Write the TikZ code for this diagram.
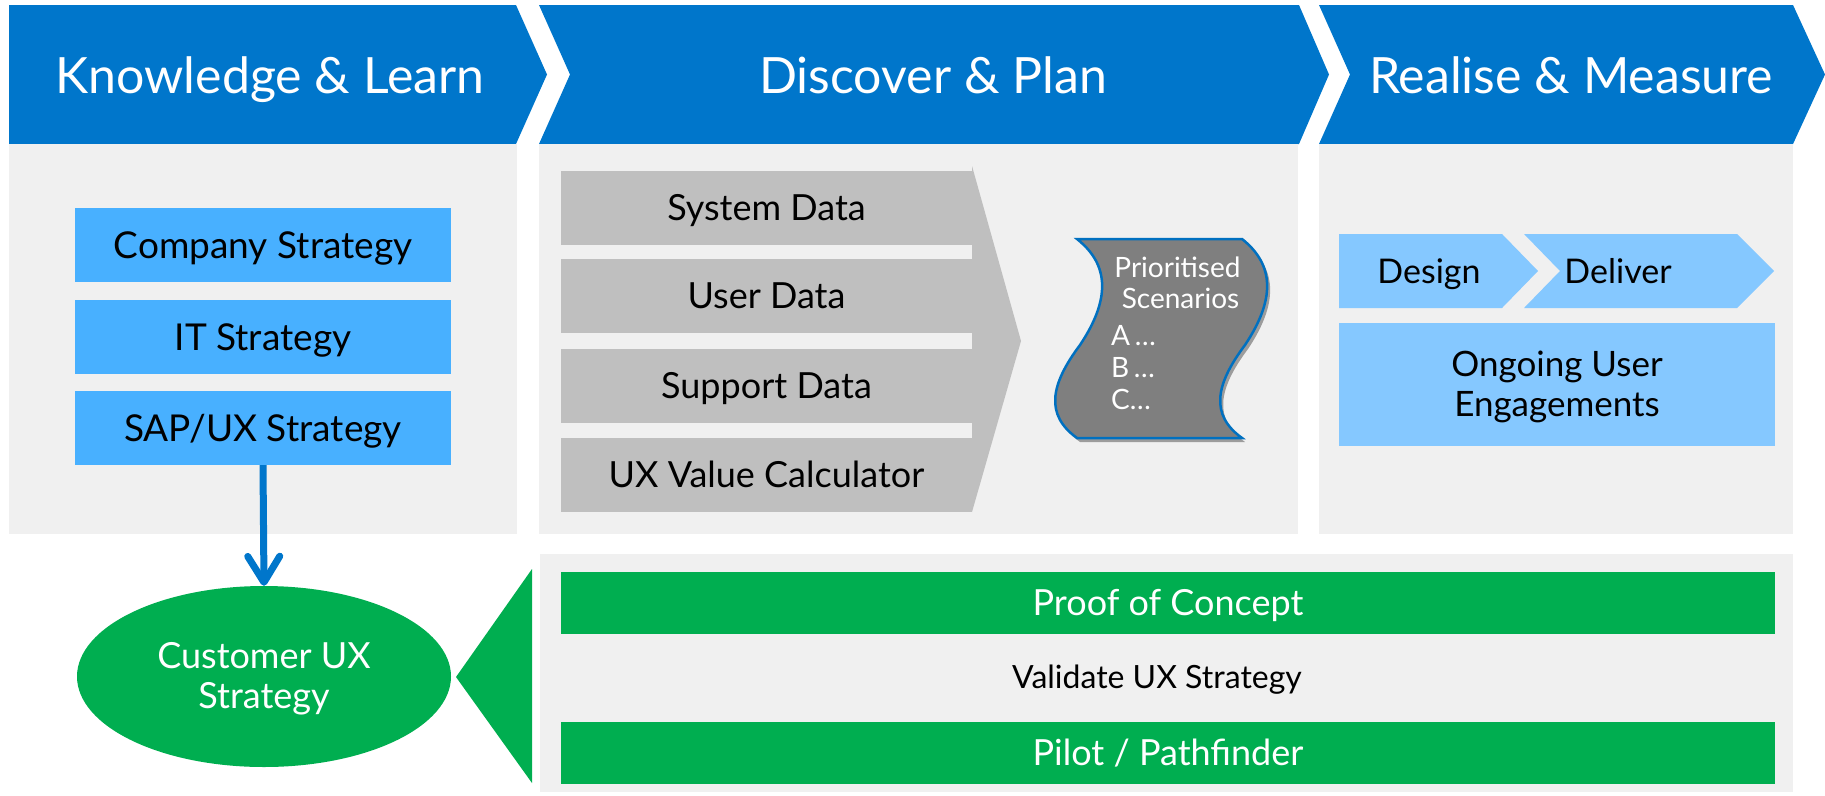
\documentclass[tikz,border=0pt]{standalone}
\usepackage{fontspec}
\setmainfont{Lato}
\usetikzlibrary{arrows.meta,shapes.geometric,shadows}
\definecolor{hdrblue}{RGB}{0,118,203}
\definecolor{panelgrey}{RGB}{240,240,240}
\definecolor{lblue}{RGB}{72,176,255}
\definecolor{pblue}{RGB}{133,200,255}
\definecolor{bargrey}{RGB}{191,191,191}
\definecolor{scrollgrey}{RGB}{127,127,127}
\definecolor{scrollborder}{RGB}{0,112,192}
\definecolor{sapgreen}{RGB}{0,174,80}
\begin{document}
\begin{tikzpicture}[x=1pt,y=-1pt,
  hdr/.style={fill=hdrblue},
  panel/.style={fill=panelgrey},
  capmid/.style={inner sep=0pt,text height=#1,text depth=0pt},
  hdrtext/.style={capmid=36pt,text=white,font=\fontsize{50}{58}\selectfont},
  stratbox/.style={rectangle,capmid=26.5pt,fill=lblue,minimum width=376pt,minimum height=74pt,font=\fontsize{37}{44}\selectfont},
  databar/.style={rectangle,capmid=25.8pt,fill=bargrey,minimum width=411pt,minimum height=74pt,font=\fontsize{36}{42}\selectfont},
  greenbar/.style={rectangle,capmid=25.8pt,fill=sapgreen,text=white,minimum width=1214pt,minimum height=62pt,font=\fontsize{36}{42}\selectfont},
  phase/.style={fill=pblue},
  phasetext/.style={capmid=24.4pt,font=\fontsize{34}{40}\selectfont},
  linetext/.style={inner sep=0pt,anchor=base},
  scrolltext/.style={linetext,text=white,font=\fontsize{28}{32}\selectfont},
]
\useasboundingbox (0,0) rectangle (1825,795);
% headers
\fill[hdr] (9,5) -- (516,5) -- (547,74.5) -- (516,144) -- (9,144) -- cycle;
\fill[hdr] (539,5) -- (1299,5) -- (1329,74.5) -- (1299,144) -- (539,144) -- (570,74.5) -- cycle;
\fill[hdr] (1319,5) -- (1793,5) -- (1825,74.5) -- (1793,144) -- (1319,144) -- (1350,74.5) -- cycle;
\node[hdrtext] (h1) at (270,75) {Knowledge \& Learn};
\node[hdrtext] (h2) at (933,75) {Discover \& Plan};
\node[hdrtext] (h3) at (1571,75) {Realise \& Measure};
% panels
\fill[panel] (9,144) rectangle (517,534);
\fill[panel] (539,144) rectangle (1298,534);
\fill[panel] (1319,144) rectangle (1793,534);
\fill[panel] (540,554) rectangle (1793,792);
% strategy boxes
\node[stratbox] (cs) at (263,245) {Company Strategy};
\node[stratbox] (its) at (263,337) {IT Strategy};
\node[stratbox] (sap) at (263,428) {SAP/UX Strategy};
% customer UX strategy
\node[ellipse,fill=sapgreen,minimum width=374pt,minimum height=181pt,inner sep=0pt] (cust) at (264,676.5) {};
\node[linetext,text=white,font=\fontsize{36}{42}\selectfont] (cust1) at (264,668) {Customer UX};
\node[linetext,text=white,font=\fontsize{36}{42}\selectfont] (cust2) at (264,708) {Strategy};
\draw[hdrblue,line width=7pt,-{Straight Barb[length=26pt,width=32pt,round]}] (sap.south) -- (cust.north);
\fill[sapgreen] (456,677) -- (532,569) -- (532,783) -- cycle;
% data bars
\fill[bargrey] (972,166) -- (1021,341) -- (972,512) -- cycle;
\node[databar] (sd) at (766.5,208) {System Data};
\node[databar] (ud) at (766.5,296) {User Data};
\node[databar] (spd) at (766.5,386) {Support Data};
\node[databar] (uxv) at (766.5,475) {UX Value Calculator};
% scroll
\fill[scrollgrey,draw=scrollborder,line width=2.5pt,drop shadow={shadow xshift=3pt,shadow yshift=-4pt,opacity=0.35,fill=black}]
  (1077,239) -- (1242,239) .. controls (1275,265) and (1275,300) .. (1245,345)
  .. controls (1215,385) and (1210,415) .. (1242,438) -- (1077,438)
  .. controls (1045,415) and (1050,385) .. (1080,345)
  .. controls (1110,300) and (1110,265) .. (1077,239) -- cycle;
\node[scrolltext] (ps1) at (1177.5,277) {Prioritised};
\node[scrolltext] (ps2) at (1180.5,308) {Scenarios};
\node[scrolltext,anchor=base west] (psa) at (1111,345) {A\,\dots};
\node[scrolltext,anchor=base west] (psb) at (1111,377) {B\,\dots};
\node[scrolltext,anchor=base west] (psc) at (1111,409) {C\dots};
% design / deliver
\fill[phase] (1339,234) -- (1502,234) -- (1538,271) -- (1502,308) -- (1339,308) -- cycle;
\fill[phase] (1524,234) -- (1737,234) -- (1774,271) -- (1737,308) -- (1524,308) -- (1560,271) -- cycle;
\node[phasetext] (des) at (1429,271) {Design};
\node[phasetext] (del) at (1618,271) {Deliver};
\node[rectangle,fill=pblue,minimum width=436pt,minimum height=123pt,inner sep=0pt] (oue) at (1557,384.5) {};
\node[linetext,font=\fontsize{35}{42}\selectfont] (oue1) at (1557,376) {Ongoing User};
\node[linetext,font=\fontsize{35}{42}\selectfont] (oue2) at (1557,416) {Engagements};
% validation
\node[greenbar] (poc) at (1168,603) {Proof of Concept};
\node[capmid=22.9pt,font=\fontsize{32}{36}\selectfont] (val) at (1157,677) {Validate UX Strategy};
\node[greenbar] (pilot) at (1168,753) {Pilot / Pathfinder};
\end{tikzpicture}
\end{document}
